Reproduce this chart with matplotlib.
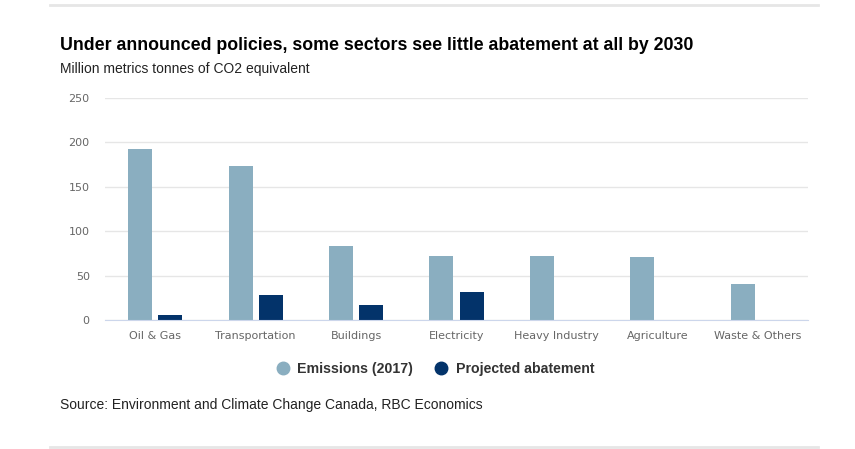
import numpy as np
import matplotlib
matplotlib.use("Agg")
import matplotlib.pyplot as plt
from matplotlib.lines import Line2D

# Data (million tonnes CO2e)
sectors = ["Oil & Gas", "Transportation", "Buildings", "Electricity",
           "Heavy Industry", "Agriculture", "Waste & Others"]
emissions_2017 = [193, 173, 83, 72, 72, 71, 41]
projected_abatement = [6, 28, 17, 32, 0, 0, 0]
y_ticks = [0, 50, 100, 150, 200, 250]

c_emis = "#8aaec0"
c_abate = "#03336a"

W, H = 855, 449
fig = plt.figure(figsize=(W / 100, H / 100), dpi=100)

# Plot area in pixel coords from the reference
left, right, top, bottom = 105, 808, 98, 320
ax = fig.add_axes([left / W, 1 - bottom / H, (right - left) / W, (bottom - top) / H])

x = np.arange(len(sectors))
bw = 0.24
off = 0.15
ax.bar(x - off, emissions_2017, width=bw, color=c_emis, zorder=3)
ax.bar(x + off, projected_abatement, width=bw, color=c_abate, zorder=3)

ax.set_xlim(-0.5, len(sectors) - 0.5)
ax.set_ylim(0, 250)
ax.set_yticks(y_ticks)
ax.set_xticks(x)
ax.set_xticklabels(sectors)
ax.yaxis.grid(True, color="#e6e6e6", linewidth=1, zorder=0)
ax.tick_params(axis="both", length=0, colors="#666666", labelsize=8)
ax.tick_params(axis="x", pad=8)
ax.tick_params(axis="y", pad=11)
for s in ["top", "right", "left"]:
    ax.spines[s].set_visible(False)
ax.spines["bottom"].set_color("#ccd6eb")
ax.spines["bottom"].set_zorder(4)

# Titles
fig.text(60 / W, 1 - 45 / H, "Under announced policies, some sectors see little abatement at all by 2030",
         fontsize=12.8, fontweight="bold", family="Liberation Sans", color="#000000", va="center")
fig.text(60 / W, 1 - 69 / H, "Million metrics tonnes of CO2 equivalent",
         fontsize=10, family="Liberation Sans", color="#222222", va="center")
fig.text(60 / W, 1 - 405 / H, "Source: Environment and Climate Change Canada, RBC Economics",
         fontsize=10, family="Liberation Sans", color="#222222", va="center")

# Legend
handles = [Line2D([], [], marker="o", linestyle="none", markersize=9, color=c_emis),
           Line2D([], [], marker="o", linestyle="none", markersize=9, color=c_abate)]
fig.legend(handles, ["Emissions (2017)", "Projected abatement"], loc="center",
           bbox_to_anchor=(435 / W, 1 - 369 / H), ncol=2, frameon=False,
           handletextpad=0.5, columnspacing=1.5, handlelength=1.0,
           prop={"family": "Liberation Sans", "weight": "bold", "size": 10.2},
           labelcolor="#333333")

# Horizontal rules top and bottom
fig.add_artist(Line2D([50 / W, 818 / W], [1 - 5 / H, 1 - 5 / H], color="#e6e6e6", linewidth=2))
fig.add_artist(Line2D([50 / W, 818 / W], [1 - 447 / H, 1 - 447 / H], color="#e6e6e6", linewidth=2))

fig.savefig("out.png", dpi=100, facecolor="white")
